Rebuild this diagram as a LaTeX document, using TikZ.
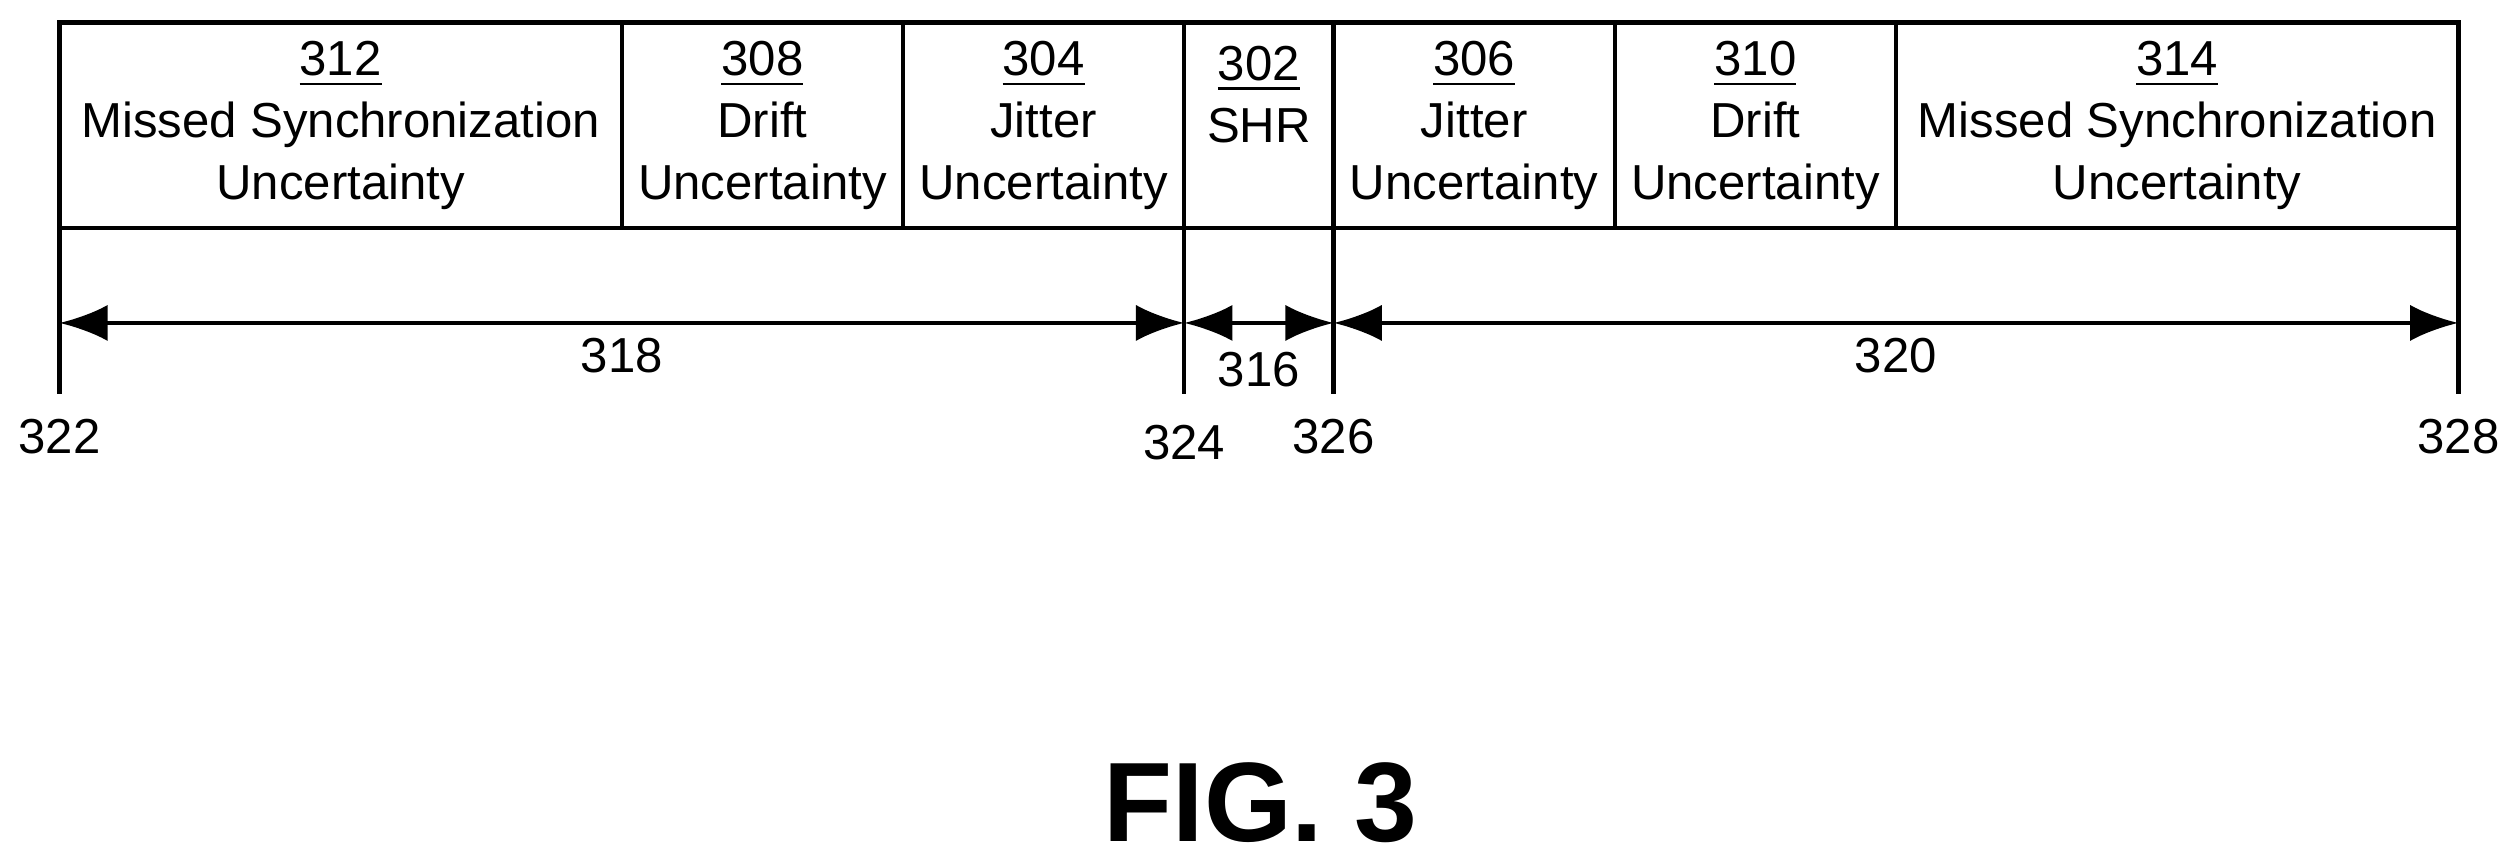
\documentclass[tikz,border=0pt]{standalone}
\usepackage{fontspec}
\setmainfont{Liberation Sans}
\usetikzlibrary{positioning,arrows.meta}
\begin{document}
\begin{tikzpicture}[x=0.01cm,y=-0.01cm,
	cell/.style={draw, thick, minimum height=1.28cm, inner sep=0pt, outer sep=0pt, align=center, font=\fontsize{8.7}{11}\selectfont},
	num/.style={font=\fontsize{8.7}{10}\selectfont}]
		\useasboundingbox (0,0) rectangle (1568,534);

		\node[cell, minimum width=3.50cm, anchor=north west] (c312) at (37,14) {\underline{312}\\Missed Synchronization\\Uncertainty};
		\node[cell, minimum width=1.75cm, right=0pt of c312] (c308) {\underline{308}\\Drift\\Uncertainty};
		\node[cell, minimum width=1.75cm, right=0pt of c308] (c304) {\underline{304}\\Jitter\\Uncertainty};
		\node[cell, minimum width=0.93cm, right=0pt of c304] (c302) {\underline{302}\\SHR\\\phantom{U}};
		\node[cell, minimum width=1.75cm, right=0pt of c302] (c306) {\underline{306}\\Jitter\\Uncertainty};
		\node[cell, minimum width=1.75cm, right=0pt of c306] (c310) {\underline{310}\\Drift\\Uncertainty};
		\node[cell, minimum width=3.50cm, right=0pt of c310] (c314) {\underline{314}\\Missed Synchronization\\Uncertainty};

		\coordinate (t322) at (c312.south west);
		\coordinate (t324) at (c304.south east);
		\coordinate (t326) at (c302.south east);
		\coordinate (t328) at (c314.south east);
		\foreach \t in {322,324,326,328}
			\draw[thick] (t\t) -- ++(0,103) coordinate (b\t);

		\draw[thick, {Latex[length=3mm]}-{Latex[length=3mm]}] ([yshift=-0.59cm]t322) -- node[num, below=-1pt]{318} ([yshift=-0.59cm]t324);
		\draw[thick, {Latex[length=3mm]}-{Latex[length=3mm]}] ([yshift=-0.59cm]t324) -- node[num, below=1.5pt]{316} ([yshift=-0.59cm]t326);
		\draw[thick, {Latex[length=3mm]}-{Latex[length=3mm]}] ([yshift=-0.59cm]t326) -- node[num, below=-1pt]{320} ([yshift=-0.59cm]t328);

		\node[num, below=1pt of b322] {322};
		\node[num, below=2pt of b324] {324};
		\node[num, below=1pt of b326] {326};
		\node[num, below=1pt of b328] {328};

		\node[font=\bfseries\fontsize{20}{24}\selectfont] (fig) at (785,500) {FIG. 3};
	\end{tikzpicture}
\end{document}
